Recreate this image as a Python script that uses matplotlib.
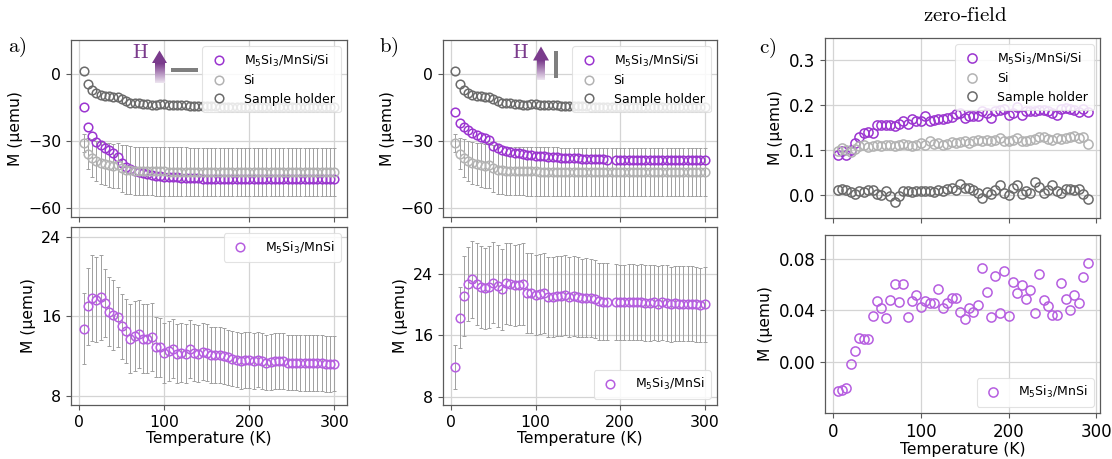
import numpy as np
import matplotlib
matplotlib.use('Agg')
import matplotlib.pyplot as plt
from matplotlib.patches import Polygon, Rectangle

plt.rcParams['font.family'] = ['DejaVu Sans']
plt.rcParams['mathtext.fontset'] = 'dejavusans'

# ---------------- data ----------------
T_ab = [5, 10, 15, 20, 25, 30, 35, 40, 45, 50, 55, 60, 65, 70, 75, 80, 85, 90, 95, 100,
        105, 110, 115, 120, 125, 130, 135, 140, 145, 150, 155, 160, 165, 170, 175, 180, 185, 190, 195, 200,
        205, 210, 215, 220, 225, 230, 235, 240, 245, 250, 255, 260, 265, 270, 275, 280, 285, 290, 295, 300]
T_b_gap = [t for t in T_ab if t != 190]

si_ab = [-31.0, -35.8, -38.0, -39.0, -40.0, -40.5, -41.0, -41.3, -41.0, -42.3, -43.0, -43.3, -43.5, -43.6, -43.6, -43.7, -43.7, -43.8, -43.8, -43.8,
         -43.9, -43.9, -43.9, -43.9, -43.9, -44.0, -44.0, -44.0, -44.0, -44.0, -44.0, -44.0, -44.0, -44.0, -44.0, -44.0, -44.0, -44.0, -44.0, -44.0,
         -44.0, -44.0, -44.0, -44.0, -44.0, -44.0, -44.0, -44.0, -44.0, -44.0, -44.0, -44.0, -44.0, -44.0, -44.0, -44.0, -44.0, -44.0, -44.0, -44.0]
si_err_ab = [4.0, 7.0, 8.5, 9.0, 9.3, 9.5, 9.7, 9.8, 10.0, 10.5, 10.8, 10.8, 10.8, 10.8, 10.8, 10.8, 10.8, 10.8, 10.8, 10.8,
             10.8, 10.8, 10.8, 10.8, 10.8, 10.8, 10.8, 10.8, 10.8, 10.8, 10.8, 10.8, 10.8, 10.8, 10.8, 10.8, 10.8, 10.8, 10.8, 10.8,
             10.8, 10.8, 10.8, 10.8, 10.8, 10.8, 10.8, 10.8, 10.8, 10.8, 10.8, 10.8, 10.8, 10.8, 10.8, 10.8, 10.8, 10.8, 10.8, 10.8]
holder_ab = [1.3, -4.8, -7.3, -8.6, -9.5, -10.0, -10.2, -10.5, -10.3, -11.5, -12.5, -13.0, -13.0, -13.3, -13.6, -13.6, -13.9, -14.1, -13.7, -13.8,
             -14.0, -14.2, -14.1, -14.3, -14.2, -14.4, -14.5, -14.4, -14.6, -14.6, -14.7, -14.7, -14.8, -14.8, -14.8, -14.8, -14.9, -14.9, -14.9, -14.9,
             -14.9, -14.9, -14.9, -15.0, -15.0, -15.0, -15.0, -15.0, -15.0, -15.0, -15.0, -15.0, -15.0, -15.0, -15.0, -15.0, -15.0, -15.0, -15.0, -15.0]
film_a = [-14.9, -23.9, -28.0, -30.6, -32.0, -33.2, -34.0, -35.6, -37.3, -40.2, -41.8, -42.8, -43.6, -44.2, -44.7, -45.1, -45.4, -45.7, -45.9, -46.1,
          -46.3, -46.4, -46.5, -46.6, -46.7, -46.8, -46.9, -46.9, -47.0, -47.0, -47.1, -47.1, -47.1, -47.2, -47.2, -47.2, -47.2, -47.2, -47.2, -47.2,
          -47.3, -47.3, -47.3, -47.3, -47.3, -47.3, -47.3, -47.3, -47.3, -47.3, -47.3, -47.3, -47.3, -47.3, -47.3, -47.3, -47.3, -47.3, -47.3, -47.3]
film_b = [-17.2, -22.0, -24.0, -25.4, -26.5, -27.4, -28.3, -29.0, -29.8, -32.3, -33.4, -34.0, -34.6, -35.0, -35.4, -35.7, -36.0, -36.3, -36.5, -36.7,
          -36.9, -37.1, -37.3, -37.4, -37.5, -37.6, -37.7, -37.8, -37.9, -38.0, -38.1, -38.2, -38.3, -38.3, -38.4, -38.4, -38.5,
          -38.5, -38.5, -38.6, -38.6, -38.6, -38.6, -38.6, -38.7, -38.7, -38.7, -38.7, -38.7, -38.7, -38.8, -38.8, -38.8, -38.8, -38.8, -38.8, -38.8, -38.8, -38.8]

diff_a = [14.77, 17.0, 17.84, 17.67, 17.9, 17.33, 16.46, 16.12, 15.95, 14.98, 14.5, 13.76, 14.03, 14.2, 13.76, 13.76, 13.93, 12.92, 12.86, 12.28,
          12.52, 12.75, 12.25, 12.35, 12.25, 12.69, 12.35, 12.25, 12.45, 12.35, 12.11, 12.08, 12.08, 12.0, 11.85, 11.74, 11.64, 11.5, 11.6, 11.6,
          11.5, 11.64, 11.5, 11.34, 11.4, 11.5, 11.5, 11.5, 11.34, 11.34, 11.34, 11.27, 11.27, 11.27, 11.27, 11.27, 11.27, 11.22, 11.17, 11.24]
diff_a_err = [3.6, 3.9, 4.3, 4.3, 4.3, 3.4, 3.5, 3.5, 3.0, 3.3, 3.2, 3.5, 3.5, 3.4, 3.5, 3.5, 3.4, 3.0, 3.0, 3.0,
              3.0, 3.0, 3.0, 3.0, 3.0, 2.9, 2.9, 2.9, 2.9, 2.9, 2.8, 2.8, 2.8, 2.8, 2.8, 2.8, 2.8, 2.8, 2.8, 2.8,
              2.8, 2.8, 2.8, 2.8, 2.8, 2.8, 2.8, 2.8, 2.8, 2.8, 2.8, 2.8, 2.8, 2.8, 2.8, 2.8, 2.8, 2.8, 2.8, 2.8]
diff_b = [11.83, 18.3, 21.09, 22.65, 23.26, 22.65, 22.3, 22.09, 22.3, 22.83, 22.4, 21.96, 22.74, 22.65, 22.48, 22.6, 22.65, 21.52, 21.52, 21.2,
          21.35, 21.52, 21.0, 21.0, 21.09, 21.13, 21.2, 21.0, 21.13, 20.96, 20.8, 20.9, 20.8, 20.74, 20.43, 20.35, 20.35,
          20.35, 20.26, 20.26, 20.3, 20.3, 20.26, 20.3, 20.22, 20.2, 20.26, 20.1, 20.3, 20.2, 20.05, 20.15, 20.1, 20.1, 20.1, 20.1, 20.0, 19.95, 20.0]
diff_b_err = [2.9, 4.0, 5.2, 4.8, 5.0, 5.3, 5.3, 5.3, 5.3, 5.3, 5.3, 5.3, 5.3, 5.3, 5.3, 5.3, 5.3, 5.2, 5.2, 5.2,
              5.2, 5.2, 5.2, 5.2, 5.2, 5.2, 5.2, 5.2, 5.2, 5.2, 5.1, 5.1, 5.1, 5.1, 5.0, 5.0, 5.0,
              4.95, 4.95, 4.95, 4.95, 4.95, 4.95, 4.95, 4.95, 4.95, 4.95, 4.9, 4.9, 4.9, 4.9, 4.9, 4.9, 4.9, 4.9, 4.9, 4.85, 4.85, 4.85]

T_c = [5, 10, 15, 20, 25, 30, 35, 40, 45, 50, 55, 60, 65, 70, 75, 80, 85, 90, 95, 100,
       105, 110, 115, 120, 125, 130, 135, 140, 145, 150, 155, 160, 165, 170, 175, 180, 185, 190, 195, 200,
       205, 210, 215, 220, 225, 230, 235, 240, 245, 250, 255, 260, 265, 270, 275, 280, 285, 290]
film_c = [0.0896, 0.0985, 0.0896, 0.1, 0.1156, 0.128, 0.1378, 0.139, 0.138, 0.156, 0.155, 0.155, 0.155, 0.153, 0.158, 0.165, 0.158, 0.17, 0.165, 0.164,
          0.175, 0.164, 0.167, 0.169, 0.169, 0.171, 0.1726, 0.18, 0.182, 0.171, 0.175, 0.175, 0.175, 0.186, 0.182, 0.171, 0.187, 0.189, 0.191, 0.177,
          0.182, 0.196, 0.1785, 0.186, 0.187, 0.187, 0.189, 0.19, 0.187, 0.182, 0.177, 0.191, 0.194, 0.191, 0.189, 0.1845, 0.191, 0.184]
si_c = [0.0985, 0.1044, 0.1007, 0.0956, 0.103, 0.1081, 0.1104, 0.1059, 0.1081, 0.1119, 0.1081, 0.1104, 0.1104, 0.1081, 0.1119, 0.1133, 0.1104, 0.1081, 0.1119, 0.1156,
        0.1119, 0.1193, 0.1133, 0.1156, 0.1119, 0.1133, 0.1178, 0.1156, 0.1178, 0.1193, 0.1156, 0.1193, 0.123, 0.1193, 0.123, 0.1193, 0.123, 0.1267, 0.1207, 0.1193,
        0.123, 0.1267, 0.1193, 0.1193, 0.123, 0.1252, 0.1281, 0.1281, 0.1252, 0.123, 0.1267, 0.1252, 0.1267, 0.1281, 0.1304, 0.1267, 0.1281, 0.1133]
holder_c = [0.012, 0.014, 0.012, 0.007, 0.002, 0.010, 0.007, 0.012, 0.012, 0.002, 0.001, 0.008, -0.003, -0.0156, -0.003, 0.008, 0.010, 0.007, 0.008, 0.010,
            0.010, 0.008, 0.007, 0.012, 0.010, 0.014, 0.016, 0.012, 0.024, 0.016, 0.016, 0.012, 0.004, -0.007, 0.007, 0.002, 0.012, 0.023, 0.004, 0.001,
            0.016, 0.023, 0.002, 0.010, 0.004, 0.029, 0.018, 0.004, 0.012, 0.023, 0.010, 0.004, 0.014, 0.014, 0.012, 0.014, 0.002, -0.008]
diff_c = [-0.0226, -0.0222, -0.020, -0.0018, 0.0083, 0.019, 0.0177, 0.0182, 0.0356, 0.0473, 0.0423, 0.0338, 0.048, 0.0605, 0.0465, 0.0603, 0.035, 0.047, 0.052, 0.043,
          0.047, 0.0455, 0.0462, 0.0571, 0.042, 0.046, 0.050, 0.050, 0.039, 0.033, 0.0416, 0.039, 0.044, 0.0733, 0.0545, 0.035, 0.0667, 0.0377, 0.0706, 0.036,
          0.0623, 0.0538, 0.0597, 0.049, 0.0558, 0.0377, 0.068, 0.048, 0.0434, 0.0364, 0.0364, 0.0610, 0.049, 0.040, 0.052, 0.0455, 0.0657, 0.0766]

lab_film = 'M$_5$Si$_3$/MnSi/Si'
lab_si = 'Si'
lab_holder = 'Sample holder'
lab_diff = 'M$_5$Si$_3$/MnSi'

# ---------------- styles ----------------
PURPLE = '#9b35d0'
LPURPLE = '#b65ee0'
SI_C = '#b3b3b3'
SH_C = '#6b6b6b'
ARROW_C = '#7a3b8c'
MEW = 1.1

W, H = 1112, 459
fig = plt.figure(figsize=(W / 100, H / 100), dpi=100)


def fbox(l, t, r, b):
    return [l / W, 1 - b / H, (r - l) / W, (b - t) / H]


def style(ax, tsize):
    ax.grid(True, color='#d4d4d4', linewidth=0.9)
    ax.set_axisbelow(True)
    for s in ax.spines.values():
        s.set_color('#5a5a5a')
        s.set_linewidth(0.9)
    ax.tick_params(labelsize=tsize, color='#5a5a5a', length=3.5)
    ax.set_xticks([0, 100, 200, 300])


def circ(ax, x, y, c, label, ms=6.2):
    ax.plot(x, y, 'o', mfc='none', mec=c, ms=ms, mew=MEW, label=label, zorder=3)


def ebar(ax, x, y, e):
    ax.errorbar(x, y, yerr=e, fmt='none', ecolor='#a0a0a0', elinewidth=0.7,
                capsize=1.6, capthick=0.7, zorder=2)


def legend(ax, loc):
    lg = ax.legend(loc=loc, fontsize=9, framealpha=0.85, edgecolor='#dddddd',
                   handletextpad=1.2, borderpad=0.5, labelspacing=0.45, handlelength=1.6)
    lg.get_frame().set_linewidth(0.8)


xl_ab = (-9.75, 314.75)
xl_c = (-9.25, 304.25)

# ---- panel a ----
a1 = fig.add_axes(fbox(71, 40, 347, 217))
a2 = fig.add_axes(fbox(71, 227, 347, 405))
ebar(a1, T_ab, si_ab, si_err_ab)
circ(a1, T_ab, film_a, PURPLE, lab_film)
circ(a1, T_ab, si_ab, SI_C, lab_si)
circ(a1, T_ab, holder_ab, SH_C, lab_holder)
a1.set_ylim(-64.2, 15)
a1.set_yticks([0, -30, -60])
ebar(a2, T_ab, diff_a, diff_a_err)
circ(a2, T_ab, diff_a, LPURPLE, lab_diff)
a2.set_ylim(7.06, 25)
a2.set_yticks([8, 16, 24])

# ---- panel b ----
b1 = fig.add_axes(fbox(443, 40, 717, 217))
b2 = fig.add_axes(fbox(443, 227, 717, 405))
ebar(b1, T_ab, si_ab, si_err_ab)
circ(b1, T_b_gap, film_b, PURPLE, lab_film)
circ(b1, T_ab, si_ab, SI_C, lab_si)
circ(b1, T_ab, holder_ab, SH_C, lab_holder)
b1.set_ylim(-64.2, 15)
b1.set_yticks([0, -30, -60])
ebar(b2, T_b_gap, diff_b, diff_b_err)
circ(b2, T_b_gap, diff_b, LPURPLE, lab_diff)
b2.set_ylim(6.9, 30.1)
b2.set_yticks([8, 16, 24])

# ---- panel c ----
c1 = fig.add_axes(fbox(825, 38, 1100, 218))
c2 = fig.add_axes(fbox(825, 235, 1100, 413))
circ(c1, T_c, film_c, PURPLE, lab_film, 6.6)
circ(c1, T_c, si_c, SI_C, lab_si, 6.6)
circ(c1, T_c, holder_c, SH_C, lab_holder, 6.6)
c1.set_ylim(-0.051, 0.349)
c1.set_yticks([0.0, 0.1, 0.2, 0.3])
circ(c2, T_c, diff_c, LPURPLE, lab_diff, 6.6)
c2.set_ylim(-0.0397, 0.0987)
c2.set_yticks([0.0, 0.04, 0.08])

for ax in (a1, a2, b1, b2):
    style(ax, 11.3)
    ax.set_xlim(*xl_ab)
for ax in (c1, c2):
    style(ax, 12)
    ax.set_xlim(*xl_c)
for ax in (a1, b1, c1):
    ax.tick_params(labelbottom=False)
for ax in (a1, a2, b1, b2, c1, c2):
    ax.set_ylabel('M (μemu)', fontsize=11.2)
for ax in (a2, b2, c2):
    ax.set_xlabel('Temperature (K)', fontsize=11.2, labelpad=1)

legend(a1, 'upper right')
legend(b1, 'upper right')
legend(c1, 'upper right')
legend(a2, 'upper right')
legend(b2, 'lower right')
legend(c2, 'lower right')

# ---- panel letters and title ----
def ftext(x, y, s, size, color='black'):
    fig.text(x / W, 1 - y / H, s, fontsize=size, color=color, ha='center', va='center',
             math_fontfamily='cm')

ftext(17, 47, r'$\mathrm{a)}$', 15)
ftext(389, 47, r'$\mathrm{b)}$', 15)
ftext(768, 48, r'$\mathrm{c)}$', 15)
ftext(965, 15, r'$\text{zero-field}$', 15)
ftext(140, 52, r'$\mathrm{H}$', 15, ARROW_C)
ftext(520, 52, r'$\mathrm{H}$', 15, ARROW_C)


def field_arrow(xc, y_tip, y_base, y_tail, head_w, shaft_w):
    head = Polygon([[(xc - head_w / 2) / W, 1 - y_base / H],
                    [(xc + head_w / 2) / W, 1 - y_base / H],
                    [xc / W, 1 - y_tip / H]], closed=True,
                   transform=fig.transFigure, color=ARROW_C, lw=0)
    fig.add_artist(head)
    n = 20
    base_rgb = np.array(matplotlib.colors.to_rgb(ARROW_C))
    for i in range(n):
        f = i / (n - 1)
        col = base_rgb * (1 - 0.85 * f) + np.ones(3) * 0.85 * f
        y0 = y_base + (y_tail - y_base) * i / n
        y1 = y_base + (y_tail - y_base) * (i + 1) / n
        r = Rectangle(((xc - shaft_w / 2) / W, 1 - y1 / H), shaft_w / W, (y1 - y0) / H + 0.0005,
                      transform=fig.transFigure, color=col, lw=0)
        fig.add_artist(r)


field_arrow(159.5, 50.5, 63, 83, 15, 10)
field_arrow(541, 46.5, 60.5, 80, 16, 8)
fig.add_artist(Rectangle((171 / W, 1 - 72 / H), 27 / W, 4 / H, transform=fig.transFigure,
                         color='#7f7f7f', lw=0))
fig.add_artist(Rectangle((554 / W, 1 - 78.3 / H), 4 / W, 27.6 / H, transform=fig.transFigure,
                         color='#7f7f7f', lw=0))

fig.savefig('out.png', dpi=100)
